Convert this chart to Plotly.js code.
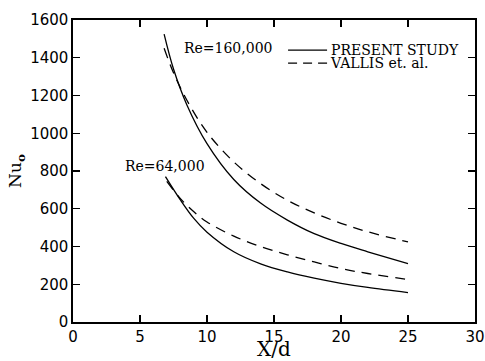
<!DOCTYPE html>
<html>
<head>
<meta charset="utf-8">
<script src="https://cdn.plot.ly/plotly-2.35.2.min.js"></script>
<style>html,body{margin:0;padding:0;background:#fff;}#chart{width:485px;height:361px;}</style>
</head>
<body>
<div id="chart"></div>
<script>
// Re = 160,000
const xPresent160 = [6.8, 7.5, 8.5, 10, 12, 14, 16, 18, 20, 22, 25];
const nuPresent160 = [1525, 1340, 1150, 945, 755, 630, 540, 468, 416, 372, 309];
const xVallis160 = [6.8, 7.5, 8.5, 10, 12, 14, 16, 18, 20, 22, 25];
const nuVallis160 = [1450, 1320, 1175, 1005, 848, 733, 645, 578, 523, 478, 424];
// Re = 64,000
const xPresent64 = [6.9, 8, 9, 10, 12, 14, 16, 18, 20, 22, 25];
const nuPresent64 = [770, 648, 550, 476, 372, 308, 265, 232, 205, 183, 156];
const xVallis64 = [7.0, 8, 9, 10, 12, 14, 16, 18, 20, 22, 25];
const nuVallis64 = [745, 655, 585, 530, 455, 400, 356, 318, 283, 257, 225];

const xTicks = [0, 5, 10, 15, 20, 25, 30];
const yTicks = [0, 200, 400, 600, 800, 1000, 1200, 1400, 1600];
const legendLabels = ["PRESENT STUDY", "VALLIS et. al."];
const curveLabels = ["Re=160,000", "Re=64,000"];

const solid = {color: '#000', width: 1.3, shape: 'spline', dash: 'solid'};
const dashed = {color: '#000', width: 1.3, shape: 'spline', dash: '10px,7px'};

const traces = [
  {x: xPresent160, y: nuPresent160, mode: 'lines', line: solid, showlegend: false},
  {x: xVallis160, y: nuVallis160, mode: 'lines', line: dashed, showlegend: false},
  {x: xPresent64, y: nuPresent64, mode: 'lines', line: solid, showlegend: false},
  {x: xVallis64, y: nuVallis64, mode: 'lines', line: dashed, showlegend: false}
];

const serif = {family: 'DejaVu Serif', size: 14, color: '#000'};
const axisBase = {
  showgrid: false, zeroline: false, showline: true, linecolor: '#000', linewidth: 1.6,
  ticks: 'inside', ticklen: 7, tickwidth: 1.3, tickcolor: '#000', mirror: 'ticks',
  tickfont: {family: 'DejaVu Sans', size: 15, color: '#000'}
};

const layout = {
  width: 485, height: 361,
  margin: {l: 73, r: 10, t: 20, b: 39},
  paper_bgcolor: '#fff', plot_bgcolor: '#fff',
  showlegend: false,
  xaxis: Object.assign({}, axisBase, {
    range: [0, 30], tickvals: xTicks, ticktext: xTicks.map(String), automargin: false,
    title: {text: 'X/d', font: {family: 'DejaVu Serif', size: 20, color: '#000'}, standoff: 0}
  }),
  yaxis: Object.assign({}, axisBase, {
    range: [0, 1600], tickvals: yTicks, ticktext: yTicks.map(String), automargin: false,
    title: {text: 'Nu<sub><b>o</b></sub>', font: {family: 'DejaVu Serif', size: 17, color: '#000'}, standoff: 4}
  }),
  annotations: [
    {xref: 'x', yref: 'y', x: 8.13, y: 1450, text: curveLabels[0], showarrow: false, xanchor: 'left', yanchor: 'middle', font: serif},
    {xref: 'x', yref: 'y', x: 3.73, y: 825, text: curveLabels[1], showarrow: false, xanchor: 'left', yanchor: 'middle', font: serif},
    {xref: 'paper', yref: 'paper', x: 0.644, y: 0.9, text: legendLabels[0], showarrow: false, xanchor: 'left', yanchor: 'middle', font: serif, xshift: -3},
    {xref: 'paper', yref: 'paper', x: 0.641, y: 0.857, text: legendLabels[1], showarrow: false, xanchor: 'left', yanchor: 'middle', font: serif, xshift: -3}
  ],
  shapes: [
    {type: 'line', xref: 'paper', yref: 'paper', x0: 0.535, x1: 0.632, y0: 0.9, y1: 0.9, line: {color: '#000', width: 1.3}},
    {type: 'line', xref: 'paper', yref: 'paper', x0: 0.535, x1: 0.632, y0: 0.857, y1: 0.857, line: {color: '#000', width: 1.3, dash: '9px,6px'}}
  ]
};

Plotly.newPlot('chart', traces, layout, {staticPlot: true, displayModeBar: false});
</script>
</body>
</html>
